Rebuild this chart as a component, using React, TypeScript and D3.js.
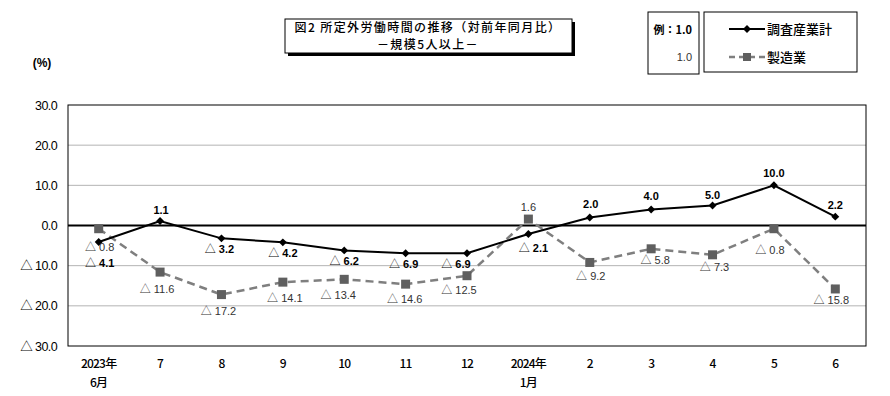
import React, { useEffect, useRef } from "react";
import * as d3 from "d3";

const months = ["2023年\n6月", "7", "8", "9", "10", "11", "12", "2024年\n1月", "2", "3", "4", "5", "6"];
const totalValues = [-4.1, 1.1, -3.2, -4.2, -6.2, -6.9, -6.9, -2.1, 2.0, 4.0, 5.0, 10.0, 2.2];
const mfgValues = [-0.8, -11.6, -17.2, -14.1, -13.4, -14.6, -12.5, 1.6, -9.2, -5.8, -7.3, -0.8, -15.8];
const yTicks = [30, 20, 10, 0, -10, -20, -30];

const jp = "'Noto Sans CJK JP', sans-serif";
const num = "'Liberation Sans', Arial, sans-serif";

// 負の値は「△」付きで表示
function writeValue(sel: any) {
  sel.each(function (this: SVGTextElement, d: number) {
    const t = d3.select(this);
    if (d < 0) {
      t.append("tspan").attr("font-family", jp).attr("font-weight", "normal").text("△");
      t.append("tspan").text(" " + Math.abs(d).toFixed(1));
    } else {
      t.append("tspan").text(d.toFixed(1));
    }
  });
}

const App = () => {
  const svgRef = useRef<SVGSVGElement>(null);

  useEffect(() => {
    const width = 890;
    const height = 396;
    const left = 68;
    const right = 866;
    const top = 105;
    const bottom = 346;

    const svg = d3.select(svgRef.current).attr("width", width).attr("height", height);
    svg.selectAll("*").remove();

    const x = d3.scaleBand<number>().domain(d3.range(months.length)).range([left, right]);
    const cx = (i: number) => (x(i) as number) + x.bandwidth() / 2;
    const y = d3.scaleLinear().domain([-30, 30]).range([bottom, top]);

    // grid
    svg
      .append("g")
      .selectAll("line")
      .data(yTicks.filter((t) => t !== 0 && Math.abs(t) !== 30))
      .join("line")
      .attr("x1", left)
      .attr("x2", right)
      .attr("y1", (d) => y(d))
      .attr("y2", (d) => y(d))
      .attr("stroke", "#b4b4b4")
      .attr("stroke-width", 1);

    svg
      .append("rect")
      .attr("x", left)
      .attr("y", top)
      .attr("width", right - left)
      .attr("height", bottom - top)
      .attr("fill", "none")
      .attr("stroke", "#000")
      .attr("stroke-width", 1);

    svg
      .append("line")
      .attr("x1", left)
      .attr("x2", right)
      .attr("y1", y(0))
      .attr("y2", y(0))
      .attr("stroke", "#000")
      .attr("stroke-width", 2);

    // y labels
    svg
      .append("g")
      .selectAll("text")
      .data(yTicks)
      .join("text")
      .attr("x", 57)
      .attr("y", (d) => y(d) + 4.5)
      .attr("text-anchor", "end")
      .attr("font-family", num)
      .attr("font-size", 12.5)
      .attr("letter-spacing", -0.6)
      .call(writeValue);

    svg
      .append("text")
      .attr("x", 42)
      .attr("y", 67)
      .attr("text-anchor", "middle")
      .attr("font-family", num)
      .attr("font-weight", "bold")
      .attr("font-size", 12)
      .text("(%)");

    // x labels
    const xl = svg
      .append("g")
      .selectAll("text")
      .data(months)
      .join("text")
      .attr("text-anchor", "middle")
      .attr("font-family", jp)
      .attr("font-weight", 500)
      .attr("font-size", 12)
      .attr("letter-spacing", -0.8);
    xl.each(function (d, i) {
      const t = d3.select(this);
      d.split("\n").forEach((s, k) => {
        t.append("tspan")
          .attr("x", cx(i))
          .attr("y", 368 + k * 19)
          .text(s);
      });
    });

    // manufacturing line
    const line = d3
      .line<number>()
      .x((_, i) => cx(i))
      .y((d) => y(d));

    svg
      .append("path")
      .datum(mfgValues)
      .attr("d", line)
      .attr("fill", "none")
      .attr("stroke", "#7f7f7f")
      .attr("stroke-width", 2.5)
      .attr("stroke-dasharray", "8,5");

    svg
      .append("g")
      .selectAll("rect")
      .data(mfgValues)
      .join("rect")
      .attr("x", (_, i) => cx(i) - 4.5)
      .attr("y", (d) => y(d) - 4.5)
      .attr("width", 9)
      .attr("height", 9)
      .attr("fill", "#5f5f5f");

    svg
      .append("path")
      .datum(totalValues)
      .attr("d", line)
      .attr("fill", "none")
      .attr("stroke", "#000")
      .attr("stroke-width", 2);

    svg
      .append("g")
      .selectAll("path")
      .data(totalValues)
      .join("path")
      .attr("transform", (d, i) => `translate(${cx(i)},${y(d)})`)
      .attr("d", d3.symbol(d3.symbolDiamond2, 40)())
      .attr("fill", "#000");

    // labels
    const mfgDx = [1, -3, -3, 2, -6, -1, -8, 0, 1, 4, 2, -4, -4];
    const mfgDy = [18, 17, 16, 16, 16, 15, 14, -12, 14, 11, 12, 21, 11];
    svg
      .append("g")
      .selectAll("text")
      .data(mfgValues)
      .join("text")
      .attr("x", (_, i) => cx(i) + mfgDx[i])
      .attr("y", (d, i) => y(d) + mfgDy[i] + 4)
      .attr("text-anchor", "middle")
      .attr("font-family", num)
      .attr("font-size", 11)
      .attr("fill", "#333")
      .call(writeValue);

    const totDx = [1, 1, -2, 0, 0, -2, -11, 5, 1, 0, 0, 0, 0];
    const totDy = [21, -11, 11, 11, 11, 11, 11, 14, -13, -13, -10, -12, -12];
    svg
      .append("g")
      .selectAll("text")
      .data(totalValues)
      .join("text")
      .attr("x", (_, i) => cx(i) + totDx[i])
      .attr("y", (d, i) => y(d) + totDy[i] + 4)
      .attr("text-anchor", "middle")
      .attr("font-family", num)
      .attr("font-weight", "bold")
      .attr("font-size", 11)
      .call(writeValue);

    // title box
    svg
      .append("rect")
      .attr("x", 288)
      .attr("y", 22)
      .attr("width", 287)
      .attr("height", 34)
      .attr("fill", "#000");
    svg
      .append("rect")
      .attr("x", 285)
      .attr("y", 19)
      .attr("width", 287)
      .attr("height", 34)
      .attr("fill", "#fff")
      .attr("stroke", "#000")
      .attr("stroke-width", 1);
    svg
      .append("text")
      .attr("x", 428)
      .attr("y", 32)
      .attr("text-anchor", "middle")
      .attr("font-family", jp)
      .attr("font-weight", 500)
      .attr("font-size", 12)
      .attr("letter-spacing", 1.4)
      .text("図2  所定外労働時間の推移（対前年同月比）");
    svg
      .append("text")
      .attr("x", 428)
      .attr("y", 49)
      .attr("text-anchor", "middle")
      .attr("font-family", jp)
      .attr("font-weight", 500)
      .attr("font-size", 12)
      .attr("letter-spacing", 1.4)
      .text("－規模5人以上－");

    // example box
    svg
      .append("rect")
      .attr("x", 648)
      .attr("y", 12)
      .attr("width", 51)
      .attr("height", 62)
      .attr("fill", "#fff")
      .attr("stroke", "#000");
    svg
      .append("text")
      .attr("x", 692)
      .attr("y", 34)
      .attr("text-anchor", "end")
      .attr("font-family", jp)
      .attr("font-weight", "bold")
      .attr("font-size", 11)
      .text("例：1.0");
    svg
      .append("text")
      .attr("x", 692)
      .attr("y", 61)
      .attr("text-anchor", "end")
      .attr("font-family", num)
      .attr("font-size", 11)
      .attr("fill", "#333")
      .text("1.0");

    // legend
    svg
      .append("rect")
      .attr("x", 704)
      .attr("y", 12)
      .attr("width", 153)
      .attr("height", 60)
      .attr("fill", "#fff")
      .attr("stroke", "#000");
    const lg = svg.append("g");
    lg.append("line")
      .attr("x1", 729)
      .attr("x2", 765)
      .attr("y1", 29)
      .attr("y2", 29)
      .attr("stroke", "#000")
      .attr("stroke-width", 2);
    lg.append("path")
      .attr("transform", "translate(747,29)")
      .attr("d", d3.symbol(d3.symbolDiamond2, 40)())
      .attr("fill", "#000");
    lg.append("text")
      .attr("x", 767)
      .attr("y", 34)
      .attr("font-family", jp)
      .attr("font-weight", 500)
      .attr("font-size", 13)
      .text("調査産業計");
    lg.append("line")
      .attr("x1", 729)
      .attr("x2", 765)
      .attr("y1", 57)
      .attr("y2", 57)
      .attr("stroke", "#7f7f7f")
      .attr("stroke-width", 2.5)
      .attr("stroke-dasharray", "6,4");
    lg.append("rect")
      .attr("x", 743)
      .attr("y", 53)
      .attr("width", 8)
      .attr("height", 8)
      .attr("fill", "#5f5f5f");
    lg.append("text")
      .attr("x", 767)
      .attr("y", 62)
      .attr("font-family", jp)
      .attr("font-weight", 500)
      .attr("font-size", 13)
      .text("製造業");
  }, []);

  return (
    <div style={{ position: "absolute", left: 0, top: 0, width: 890, height: 396, background: "#fff" }}>
      <svg ref={svgRef} style={{ display: "block" }}></svg>
    </div>
  );
};

export default App;
